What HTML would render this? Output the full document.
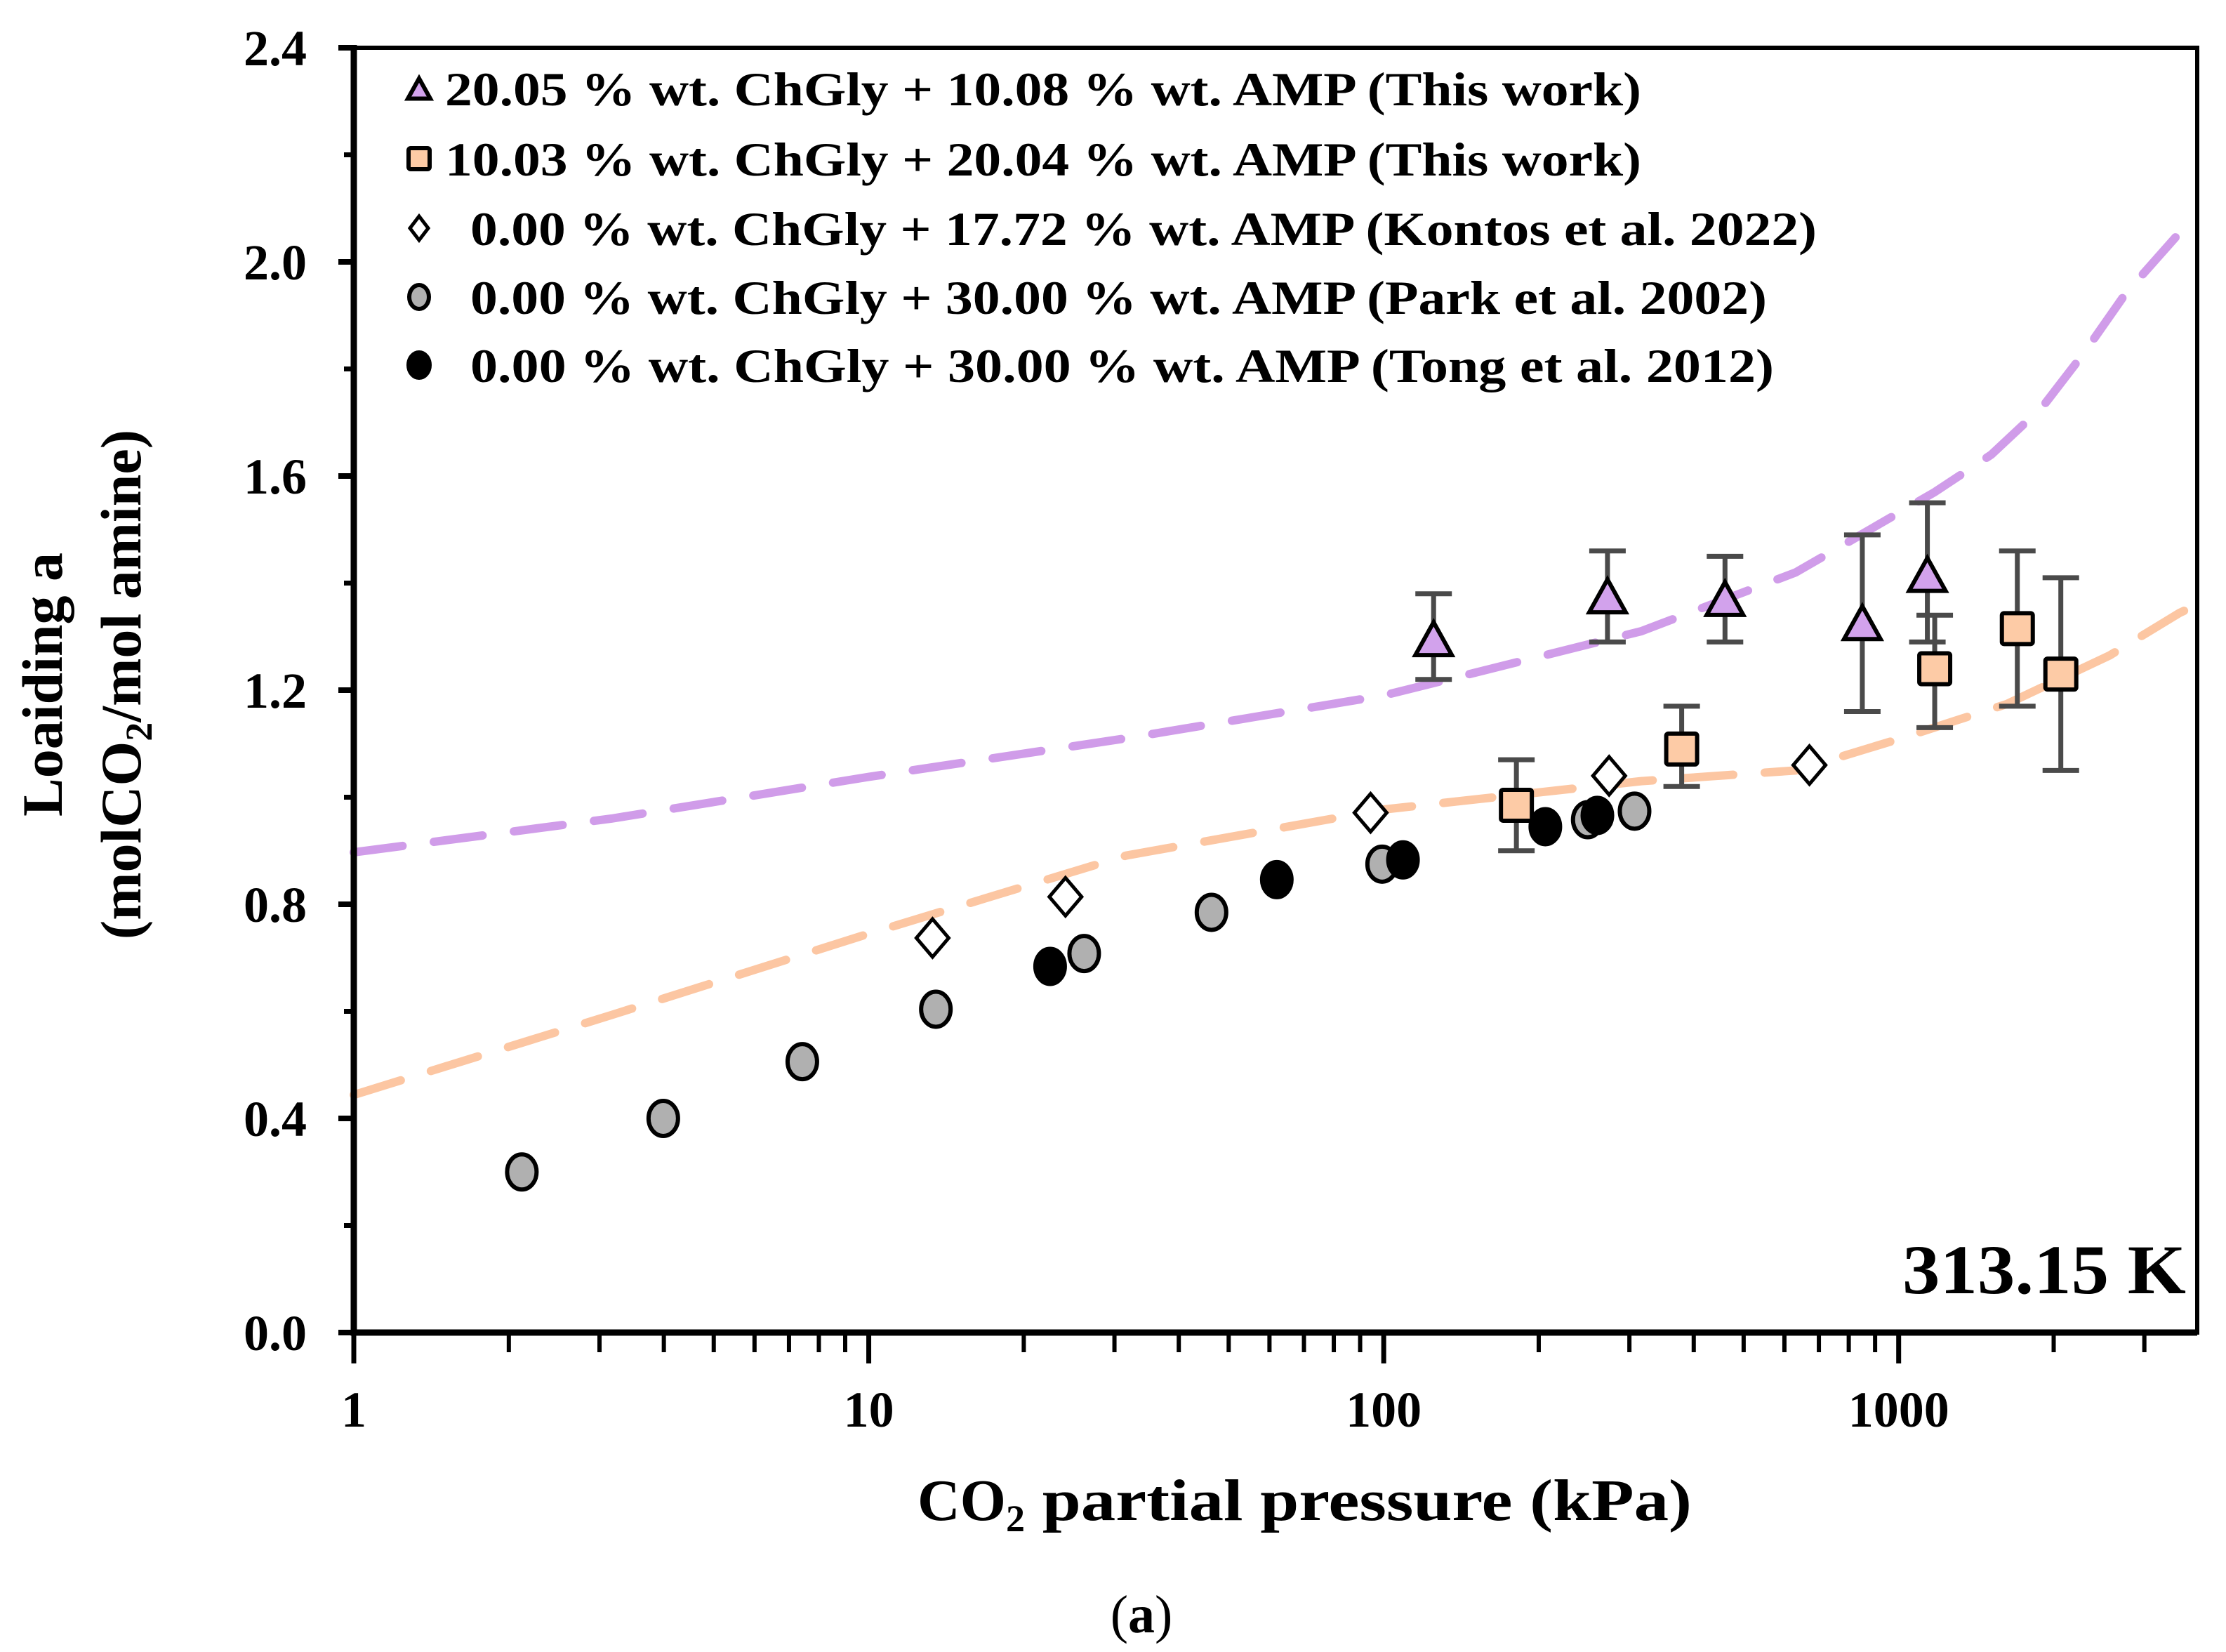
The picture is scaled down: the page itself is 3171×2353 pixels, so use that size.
<!DOCTYPE html>
<html><head><meta charset="utf-8"><style>
html,body{margin:0;padding:0;background:#fff;}
svg{display:block;font-family:"Liberation Serif",serif;}
</style></head><body>
<svg id="chart" width="3171" height="2353" viewBox="0 0 3171 2353" xmlns="http://www.w3.org/2000/svg">
<g id="grid"></g>
<g id="curves"></g>
<g id="errs"></g>
<g id="marks"></g>
<g id="axes"></g>
<g id="legend"></g>
<text x="3114" y="1842" font-size="100" font-weight="bold" text-anchor="end" textLength="404" lengthAdjust="spacingAndGlyphs">313.15 K</text>
<text x="1307" y="2165" font-size="84" font-weight="bold">CO<tspan font-size="54" dy="16">2</tspan><tspan dy="-16" textLength="950" lengthAdjust="spacingAndGlyphs"> partial pressure (kPa)</tspan></text>
<g transform="translate(88,975) rotate(-90)"><text x="0" y="0" font-size="82" font-weight="bold" text-anchor="middle">Loaiding a</text></g>
<g transform="translate(200,975) rotate(-90)"><text x="0" y="0" font-size="82" font-weight="bold" text-anchor="middle">(molCO<tspan font-size="54" dy="16">2</tspan><tspan dy="-16">/mol amine)</tspan></text></g>
<text x="1626" y="2325" font-size="76" text-anchor="middle">(<tspan font-weight="bold">a</tspan>)</text>
</svg>
<script>
const xTickLabels=["1","10","100","1000"];
const xTickValues=[1,10,100,1000];
const yTickValues=[0,0.4,0.8,1.2,1.6,2.0,2.4];
const yTickLabels=["0.0","0.4","0.8","1.2","1.6","2.0","2.4"];
const triX=[125,272,460,850,1137];
const triY=[1.29,1.37,1.365,1.32,1.41];
const triHi=[1.38,1.46,1.45,1.49,1.55];
const triLo=[1.22,1.29,1.29,1.16,1.29];
const sqX=[181,379,1175,1700,2065];
const sqY=[0.985,1.09,1.24,1.315,1.23];
const sqHi=[1.07,1.17,1.34,1.46,1.41];
const sqLo=[0.90,1.02,1.13,1.17,1.05];
const diaX=[13.3,24.1,94.3,274,671];
const diaY=[0.737,0.814,0.971,1.04,1.06];
const parkX=[2.12,3.99,7.43,13.5,26.2,46.3,99.3,249,307];
const parkY=[0.30,0.40,0.506,0.604,0.708,0.785,0.875,0.958,0.974];
const tongX=[22.5,62,109,206,260];
const tongY=[0.684,0.846,0.883,0.945,0.966];
const purpleLogX=[0,0.5,1,1.5,2,2.5,2.8,3.07,3.18,3.28,3.36,3.44,3.56];
const purpleY=[0.897,0.96,1.038,1.11,1.19,1.31,1.42,1.57,1.64,1.73,1.83,1.94,2.07];
const orangeLogX=[0,0.5,1,1.5,2,2.5,2.8,3.005,3.21,3.41,3.545,3.58];
const orangeY=[0.444,0.593,0.745,0.891,0.977,1.03,1.05,1.11,1.174,1.265,1.344,1.36];

const L=504,R=3130,T=68,B=1898,XMAX=3800;
const NS="http://www.w3.org/2000/svg";
function xs(v){return L+Math.log10(v)/Math.log10(XMAX)*(R-L);}
function xl(l){return L+l/Math.log10(XMAX)*(R-L);}
function ys(v){return B-v/2.4*(B-T);}
function mk(tag,attrs,parent){const e=document.createElementNS(NS,tag);for(const k in attrs)e.setAttribute(k,attrs[k]);document.getElementById(parent).appendChild(e);return e;}

function curve(lx,ly,color,name){
  let d="";
  for(let i=0;i<lx.length;i++)d+=(i?"L":"M")+xl(lx[i]).toFixed(1)+","+ys(ly[i]).toFixed(1);
  const p=mk("path",{d:d,fill:"none",stroke:color,"stroke-width":12,"stroke-dasharray":"70,45","stroke-linecap":"round"},"curves");
  
  
}
curve(purpleLogX,purpleY,"#d09ce9","model-curve-chgly-20");
curve(orangeLogX,orangeY,"#fcc6a2","model-curve-chgly-10");

function err(xv,hi,lo,name){
  for(let i=0;i<xv.length;i++){
    const x=xs(xv[i]),y1=ys(hi[i]),y2=ys(lo[i]);
    const g=mk("g",{stroke:"#4a4a4a","stroke-width":7},"errs");
    
    
    const a=document.createElementNS(NS,"path");
    a.setAttribute("d",`M${x},${y1}V${y2}M${x-26},${y1}H${x+26}M${x-26},${y2}H${x+26}`);
    g.appendChild(a);
  }
}
err(triX,triHi,triLo,"error-bar-triangle");
err(sqX,sqHi,sqLo,"error-bar-square");

function tri(x,y,s,name,parent){const h=s*0.9;const e=mk("path",{d:`M${x},${y-h*0.6}L${x+s/2},${y+h*0.4}L${x-s/2},${y+h*0.4}Z`,fill:"#d2a2ec",stroke:"#000","stroke-width":6,"stroke-linejoin":"miter"},parent);}
function sq(x,y,s,name,parent){const e=mk("rect",{x:x-s/2,y:y-s/2,width:s,height:s,rx:3,fill:"#fdcba6",stroke:"#000","stroke-width":6},parent);}
function dia(x,y,w,h,name,parent){const e=mk("path",{d:`M${x},${y-h/2}L${x+w/2},${y}L${x},${y+h/2}L${x-w/2},${y}Z`,fill:"#fff",stroke:"#000","stroke-width":5},parent);}
function circ(x,y,rx,ry,fill,name,parent){const e=mk("ellipse",{cx:x,cy:y,rx:rx,ry:ry,fill:fill,stroke:"#000","stroke-width":6},parent);}

for(let i=0;i<parkX.length;i++)circ(xs(parkX[i]),ys(parkY[i]),21,25,"#b0b0b0","point-park-2002","marks");
for(let i=0;i<tongX.length;i++)circ(xs(tongX[i]),ys(tongY[i]),21,25,"#000","point-tong-2012","marks");
for(let i=0;i<diaX.length;i++)dia(xs(diaX[i]),ys(diaY[i]),46,54,"point-kontos-2022","marks");
for(let i=0;i<sqX.length;i++)sq(xs(sqX[i]),ys(sqY[i]),44,"point-chgly-10","marks");
for(let i=0;i<triX.length;i++)tri(xs(triX[i]),ys(triY[i]),52,"point-chgly-20","marks");

// axes
mk("rect",{x:L,y:T,width:R-L,height:B-T,fill:"none",stroke:"#000","stroke-width":6},"axes");
mk("path",{d:`M${L},${T-4}V${B}H${R}`,fill:"none",stroke:"#000","stroke-width":9},"axes");
for(let i=0;i<yTickValues.length;i++){
  const y=ys(yTickValues[i]);
  mk("path",{d:`M${L-22},${y}H${L}`,stroke:"#000","stroke-width":8},"axes");
  const t=mk("text",{x:437,y:y+25,"font-size":72,"font-weight":"bold","text-anchor":"end"},"axes");
  t.textContent=yTickLabels[i];
  
  
  if(i<yTickValues.length-1){const ym=ys(yTickValues[i]+0.2);mk("path",{d:`M${L-14},${ym}H${L}`,stroke:"#000","stroke-width":7},"axes");}
}
for(let i=0;i<xTickValues.length;i++){
  const x=xs(xTickValues[i]);
  mk("path",{d:`M${x},${B}V${B+44}`,stroke:"#000","stroke-width":7},"axes");
  const t=mk("text",{x:x,y:2032,"font-size":72,"font-weight":"bold","text-anchor":"middle"},"axes");
  t.textContent=xTickLabels[i];
  
  
  for(let m=2;m<=9;m++){const v=xTickValues[i]*m;if(v<XMAX)mk("path",{d:`M${xs(v)},${B}V${B+28}`,stroke:"#000","stroke-width":6},"axes");}
}
// legend
const legendTexts=["20.05 % wt. ChGly + 10.08 % wt. AMP (This work)","10.03 % wt. ChGly + 20.04 % wt. AMP (This work)","0.00 % wt. ChGly + 17.72 % wt. AMP (Kontos et al. 2022)","0.00 % wt. ChGly + 30.00 % wt. AMP (Park et al. 2002)","0.00 % wt. ChGly + 30.00 % wt. AMP (Tong et al. 2012)"];
const ly=[126,226,325,423,520];
const lxText=[634,634,670,670,670];
const lLen=[1704,1704,1918,1847,1857];
for(let i=0;i<5;i++){
  const mx=597,my=ly[i];
  if(i==0)tri(mx,my+3,32,"legend-marker-triangle","legend");
  if(i==1)sq(mx,my,30,"legend-marker-square","legend");
  if(i==2)dia(mx,my,26,34,"legend-marker-diamond","legend");
  if(i==3)circ(mx,my,14,17,"#b0b0b0","legend-marker-gray-circle","legend");
  if(i==4)circ(mx,my,15,18,"#000","legend-marker-black-circle","legend");
  const t=mk("text",{x:lxText[i],y:my+24,"font-size":68,"font-weight":"bold",textLength:lLen[i],lengthAdjust:"spacingAndGlyphs"},"legend");
  t.textContent=legendTexts[i];
  
  
}
</script>
</body></html>
